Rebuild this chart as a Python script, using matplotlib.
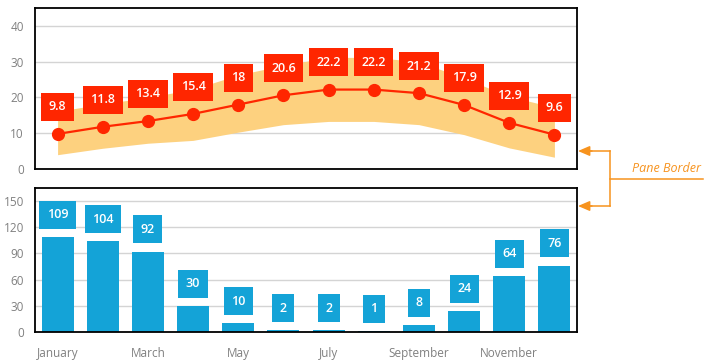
import numpy as np
import matplotlib
matplotlib.use("Agg")
from matplotlib import pyplot as plt

months = ["January", "February", "March", "April", "May", "June", "July",
          "August", "September", "October", "November", "December"]
avg_temp = [9.8, 11.8, 13.4, 15.4, 18, 20.6, 22.2, 22.2, 21.2, 17.9, 12.9, 9.6]
min_temp = [4.0, 5.8, 7.2, 8.0, 10.3, 12.4, 13.3, 13.3, 12.4, 9.6, 5.9, 3.3]
max_temp = [16.1, 18.2, 20.0, 22.3, 26.3, 29.0, 31.2, 31.2, 30.0, 25.4, 20.3, 17.2]
precip = [109, 104, 92, 30, 10, 2, 2, 1, 8, 24, 64, 76]

red = "#ff2600"
area_col = "#fdd17f"
blue = "#14a3d7"
grid_col = "#d4d4d4"
tick_col = "#808080"
orange = "#f7931e"

plt.rcParams['font.family'] = ['Open Sans', 'DejaVu Sans']

fig = plt.figure(figsize=(7.12, 3.63), dpi=100)
ax1 = fig.add_axes([35/712, 1 - 169/363, 542/712, 161/363])
ax2 = fig.add_axes([35/712, 1 - 332/363, 542/712, 144/363])

x = np.arange(len(months))


def style_axis(ax, ymax, ticks):
    ax.set_xlim(-0.5, 11.5)
    ax.set_ylim(0, ymax)
    ax.set_yticks(ticks)
    ax.yaxis.grid(True, color=grid_col, linewidth=1)
    ax.set_axisbelow(True)
    for s in ax.spines.values():
        s.set_color("black")
        s.set_linewidth(1.3)
    ax.tick_params(axis="y", length=0, colors=tick_col, labelsize=8.5, pad=8)
    ax.tick_params(axis="x", length=0, colors=tick_col, labelsize=8.5)


# top pane - temperature
style_axis(ax1, 45, [0, 10, 20, 30, 40])
ax1.set_xticks([])
ax1.fill_between(x, min_temp, max_temp, color=area_col, linewidth=0, zorder=1)
ax1.plot(x, avg_temp, color=red, linewidth=1.6, marker="o", markersize=8.5, zorder=3)
for xi, v in zip(x, avg_temp):
    ax1.annotate(f"{v:g}", (xi, v), xytext=(0, 19.5), textcoords="offset points",
                 ha="center", va="center", color="white", fontsize=9, fontweight="semibold",
                 bbox=dict(boxstyle="square,pad=0.6", fc=red, ec="none"), zorder=4)

# bottom pane - precipitation
style_axis(ax2, 165, [0, 30, 60, 90, 120, 150])
ax2.bar(x, precip, width=0.71, color=blue, zorder=2)
ax2.set_xticks(x[::2])
ax2.set_xticklabels(months[::2])
ax2.tick_params(axis="x", pad=11)
for xi, v in zip(x, precip):
    ax2.annotate(f"{v}", (xi, v), xytext=(0, 16), textcoords="offset points",
                 ha="center", va="center", color="white", fontsize=9, fontweight="semibold",
                 bbox=dict(boxstyle="square,pad=0.6", fc=blue, ec="none"), zorder=4)

# pane border annotation
def fx(px):
    return px / 712


def fy(py):
    return 1 - py / 363


fig.add_artist(plt.Line2D([fx(610), fx(610)], [fy(151), fy(206)], color=orange, lw=1.1))
fig.add_artist(plt.Line2D([fx(610), fx(703)], [fy(179), fy(179)], color=orange, lw=1.1))
for py in (151, 206):
    fig.add_artist(plt.Line2D([fx(590), fx(610)], [fy(py), fy(py)], color=orange, lw=1.1))
    ax1.annotate("", xy=(fx(578), fy(py)), xytext=(fx(592), fy(py)),
                 xycoords="figure fraction", textcoords="figure fraction",
                 arrowprops=dict(arrowstyle="-|>,head_length=0.7,head_width=0.3",
                                 color=orange, lw=1.1, shrinkA=0, shrinkB=0))
fig.text(fx(666), fy(168), "Pane Border", color=orange, fontsize=9, style="italic",
         ha="center", va="center")

fig.savefig("out.png", dpi=100)
